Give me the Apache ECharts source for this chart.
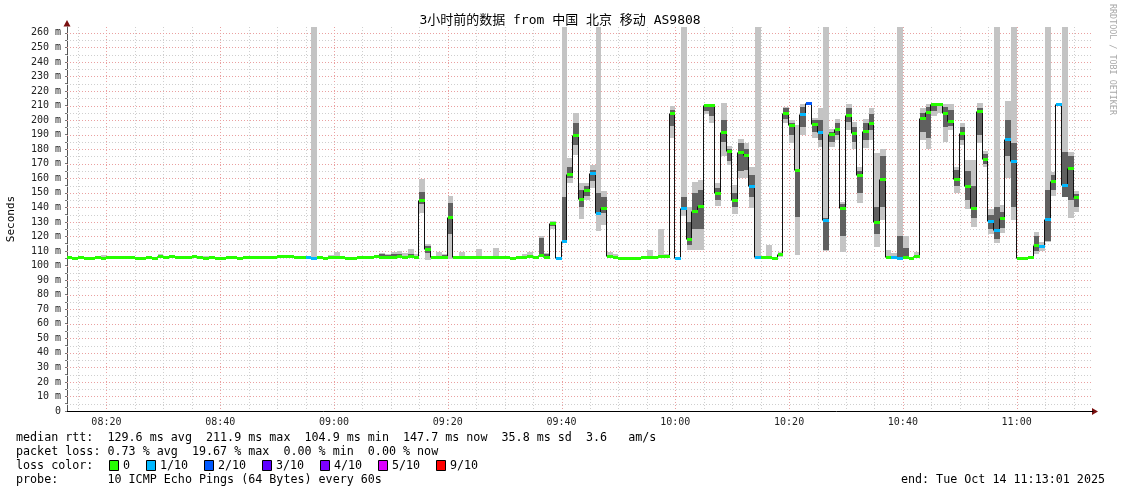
<!DOCTYPE html>
<html>
<head>
<meta charset="utf-8">
<script src="https://cdn.jsdelivr.net/npm/echarts@6.0.0/dist/echarts.min.js"></script>
<style>
html,body{margin:0;padding:0;background:#fff;}
#chart{width:1121px;height:494px;}
</style>
</head>
<body>
<div id="chart"></div>
<script>
// ---------------- DATA ----------------
// one step per minute, first step starts 08:13
const START_MINUTE = 13;            // minutes after 08:00
const medianRtt = [
  105.6,104.9,105.6,104.9,104.9,105.6,104.9,105.6,105.6,105.6,
  105.6,105.6,104.9,104.9,105.6,104.9,106.3,105.6,106.3,105.6,
  105.6,105.6,106.3,105.6,104.9,105.6,104.9,104.9,105.6,105.6,
  104.9,105.6,105.6,105.6,105.6,105.6,106.1,106.3,106.3,106.3,
  105.6,105.6,105.9,104.9,105.6,104.9,105.6,105.6,105.6,104.9,
  104.9,105.6,105.6,105.6,106.3,105.6,105.6,106.1,106.9,106.1,
  106.6,106.1,145.3,111.5,105.6,105.6,105.9,133.4,105.6,105.6,
  105.9,105.6,105.6,105.6,105.6,105.9,105.6,105.6,104.9,105.6,
  106.1,106.9,105.6,107.1,106.2,129.0,105.2,116.7,162.9,190.0,
  146.0,151.6,163.7,136.2,139.4,106.6,105.6,105.1,105.3,105.3,
  105.3,105.6,105.9,105.6,106.4,106.6,205.0,105.5,139.4,118.0,
  137.4,140.8,210.1,210.2,150.0,192.1,178.8,144.8,178.0,176.0,
  154.7,105.8,105.6,105.6,105.1,107.6,205.2,196.7,165.6,204.4,
  211.5,197.0,191.8,131.2,190.5,194.0,139.3,203.7,191.2,162.5,
  192.6,198.3,129.9,159.8,105.8,106.1,105.1,105.8,105.1,106.6,
  201.5,205.7,210.8,211.0,205.2,199.3,159.7,191.2,154.4,139.4,
  206.2,173.3,130.3,124.3,132.4,187.3,171.8,105.5,105.1,105.6,
  114.2,113.2,131.8,158.2,210.8,155.4,166.9,147.2
];
// lost pings (out of 10) per step; all other steps 0
const lossMinutes = [55,56,99,100,105,106,120,121,133,134,142,143,145,146,158,159,175,176,178,179,184,185,187,188];
const lossCount   = [ 1, 1, 1,  1,  1,  1,  1,  1,  1,  1,  1,  2,  1,  1,  1,  1,  1,  1,  1,  1,  1,  1,  1,  1];

// smoke: full spread of the pings (light) ...
const smokeMinute = [19,29,33,37,44,56,57,59,60,61,68,69,70,71,72,73,74,75,76,78,79,80,82,85,88,93,94,96,97,98,
  100,101,102,103,104,105,106,107,108,109,115,117,118,119,121,122,123,124,125,126,127,128,129,130,131,132,133,134,136,138,
  139,140,141,142,144,145,146,147,148,149,150,151,152,153,154,155,156,157,158,159,160,162,163,164,165,166,167,168,169,170,
  171,172,173,174,175,176,177,178,179,183,184,185,186,188,189,190];
const smokeLow = [105,105.6,105.6,105,104.9,104.9,105.6,105.6,105.6,105.6,105.6,105.6,105.6,105.6,105.6,105.6,105.6,136,103.6,105.6,105.6,104.6,105.6,105.6,105.6,105.6,105.6,105.6,104.6,125,
  117,157,176,132,145,153,124,128,105.6,105.6,105.6,105.6,105.6,188,134,111,110.7,110.7,204,198,140.6,175,169,135.5,160,160,139.8,105.8,105.6,105.6,
  198,184,107.3,190,188,181.6,110,181.6,186,109.6,193,180,143,181,186,112.8,131,105.6,105.6,105,105.6,105.6,186,180,203,205,185,193,150,183,
  139,126.8,184,168,122,115.4,122.4,160,131.5,108,110,116,148,147,133,137];
const smokeHigh = [107.2,107.9,106.9,106.9,106.9,264,106.6,107.2,109.2,106.6,108.6,108.1,109.1,110,108.6,111.6,108.1,159.4,114.6,109.6,107.6,148,109.6,111.6,112.3,108.1,109.6,120,108.6,130.7,
  264,174,205,157,157,169,264,151,109.6,107.6,110.6,125,107.6,210,264,140,157.7,159,211,211,156.6,212,182,155.7,187,184,167.6,264,114,109.6,
  209,200,196.7,211,201.6,208,264,193.6,200.5,144,211,199,168,201,208,177.5,180,110.6,108.6,264,120,109.6,208,211,211,211,211,211,168,198,
  172.6,172.6,211.6,179,139,264,141.7,213,264,123,116,264,164,264,178,151];
// ... and the dense core around the median (dark)
const coreMinute = [68,69,70,71,73,75,76,79,80,96,97,98,100,101,102,103,104,105,106,107,119,121,122,123,124,125,126,127,128,129,
  130,131,132,133,139,140,141,142,144,145,146,147,148,149,150,151,152,153,154,155,156,159,160,163,164,165,167,168,169,170,
  171,172,173,174,175,176,177,178,179,183,185,186,188,189,190];
const coreLow = [105.6,105.6,105.6,105.6,105.6,142,108.6,105.6,122,106.6,104.6,127,117,160,183,140,148,158,136,136,196,138,114,125,125,206,203,145,185,172,
  140,165,166,147,201,190,133.6,195,192,186,111,185,190,120,199,185,150,186,193,122,140,105.6,105.6,192,188,206,195,196,155,186,
  145,133,190,170,125,118,126,175,140,110,117,152,147,145,140];
const coreHigh = [107.6,107.1,108.1,107.6,107.6,150.5,113.6,107.1,143,119,107.6,130,147,168,198,152,155,166,150,147,207,147,130,150,152,211,211,153,200,180,
  150,184,180,162,208,198,165.8,209,200,200,133,192,198,142,208,195,165,198,204,140,175,120,112,205,209,211,209,207,166,195,
  165,155,208,177,135,140,137,200,184,120,152,162,178,175,149];

// axes
const xLabelMinutes = [20,40,60,80,100,120,140,160,180];
const xGridMinutes = [15,20,25,30,35,40,45,50,55,60,65,70,75,80,85,90,95,100,105,110,115,120,125,130,135,140,145,150,155,160,165,170,175,180,185,190];
const yLabelValues = [0,10,20,30,40,50,60,70,80,90,100,110,120,130,140,150,160,170,180,190,200,210,220,230,240,250,260];
const yGridValues = [5,10,15,20,25,30,35,40,45,50,55,60,65,70,75,80,85,90,95,100,105,110,115,120,125,130,135,140,145,150,155,160,165,170,175,180,185,190,195,200,205,210,215,220,225,230,235,240,245,250,255,260];

// legend texts
const statsRtt  = 'median rtt:  129.6 ms avg  211.9 ms max  104.9 ms min  147.7 ms now  35.8 ms sd  3.6   am/s';
const statsLoss = 'packet loss: 0.73 % avg  19.67 % max  0.00 % min  0.00 % now';
const lossLegendLabels = ['0','1/10','2/10','3/10','4/10','5/10','9/10'];
const lossLegendColors = ['#26ff00','#00b8ff','#0059ff','#5e00ff','#7e00ff','#dd00ff','#ff0000'];
const probeText = 'probe:       10 ICMP Echo Pings (64 Bytes) every 60s';
const endText = 'end: Tue Oct 14 11:13:01 2025';
const titleText = '3小时前的数据 from 中国 北京 移动 AS9808';

// ---------------- CHART ----------------
const X_MIN = 13.07, X_MAX = 193.42, Y_MAX = 264;
const MONO = '"DejaVu Sans Mono", "Noto Sans CJK SC", monospace';
const lossColorOf = n => n <= 0 ? lossLegendColors[0] : n >= 6 ? lossLegendColors[6] : lossLegendColors[n];
const hhmm = m => String(8 + Math.floor(m / 60)).padStart(2, '0') + ':' + String(m % 60).padStart(2, '0');

const lossByMinute = {};
lossMinutes.forEach((m, i) => { lossByMinute[m] = lossCount[i]; });

function stepX(api, m) {
  return [Math.round(api.coord([Math.max(m, X_MIN), 0])[0]), Math.round(api.coord([Math.min(m + 1, X_MAX), 0])[0])];
}
function bandRender(color) {
  return function (params, api) {
    const m = api.value(0);
    const [xa, xb] = stepX(api, m);
    const yTop = Math.round(api.coord([m, api.value(2)])[1]);
    const yBot = Math.round(api.coord([m, api.value(1)])[1]);
    return { type: 'rect', shape: { x: xa, y: yTop, width: xb - xa, height: Math.max(1, yBot - yTop) }, style: { fill: color } };
  };
}

const medianData = medianRtt.map((v, i) => [START_MINUTE + i, v, i + 1 < medianRtt.length ? medianRtt[i + 1] : v]);
const markerData = medianRtt.map((v, i) => [START_MINUTE + i, v, lossByMinute[START_MINUTE + i] || 0]);

const chart = echarts.init(document.getElementById('chart'), null, { renderer: 'canvas' });

const graphics = [];
graphics.push({ type: 'text', x: 560, y: 21, style: { text: titleText, font: '13px ' + MONO, fill: '#000', align: 'center', verticalAlign: 'middle', textAlign: 'center', textVerticalAlign: 'middle' } });
graphics.push({ type: 'text', x: 11, y: 219, rotation: Math.PI / 2, style: { text: 'Seconds', font: '11px ' + MONO, fill: '#000', align: 'center', verticalAlign: 'middle', textAlign: 'center', textVerticalAlign: 'middle' } });
graphics.push({ type: 'text', x: 1112, y: 4, rotation: -Math.PI / 2, style: { text: 'RRDTOOL / TOBI OETIKER', font: '8.4px ' + MONO, fill: '#a8a8a8', align: 'left', verticalAlign: 'middle', textAlign: 'left', textVerticalAlign: 'middle' } });
// axis arrows
graphics.push({ type: 'polygon', shape: { points: [[67, 20], [63.5, 26.5], [70.5, 26.5]] }, style: { fill: '#7a1010' } });
graphics.push({ type: 'polygon', shape: { points: [[1098, 411.5], [1092, 408], [1092, 415]] }, style: { fill: '#7a1010' } });
// legend rows
const legendFont = '11.7px ' + MONO;
const legendText = (t, x, y, align) => ({ type: 'text', x, y, style: { text: t, font: legendFont, fill: '#000', align: align || 'left', verticalAlign: 'middle', textAlign: align || 'left', textVerticalAlign: 'middle' } });
graphics.push(legendText(statsRtt, 16, 438));
graphics.push(legendText(statsLoss, 16, 452));
graphics.push(legendText('loss color:', 16, 466));
graphics.push(legendText(probeText, 16, 480));
graphics.push(legendText(endText, 1105, 480, 'right'));
const boxLeft = [109, 146, 204, 262, 320, 378, 436];
lossLegendLabels.forEach((lab, i) => {
  graphics.push({ type: 'rect', shape: { x: boxLeft[i] + 0.5, y: 460.5, width: 9, height: 10 }, style: { fill: lossLegendColors[i], stroke: '#000', lineWidth: 1 } });
  graphics.push(legendText(lab, boxLeft[i] + 14, 466));
});

const option = {
  animation: false,
  backgroundColor: '#fff',
  grid: { left: 67, right: 28, top: 27, bottom: 83, containLabel: false, outerBoundsMode: 'none' },
  xAxis: {
    type: 'value', min: X_MIN, max: X_MAX,
    axisLine: { show: true, lineStyle: { color: '#000', width: 1 } },
    axisTick: { show: false },
    splitLine: { show: false },
    axisLabel: { customValues: xLabelMinutes, formatter: v => hhmm(Math.round(v)), fontFamily: MONO, fontSize: 10, color: '#222', margin: 6 }
  },
  yAxis: {
    type: 'value', min: 0, max: Y_MAX,
    axisLine: { show: true, lineStyle: { color: '#555', width: 1 } },
    axisTick: { show: true, customValues: [0].concat(yGridValues), length: 2, lineStyle: { color: '#777' } },
    splitLine: { show: false },
    axisLabel: { customValues: yLabelValues, formatter: v => v === 0 ? '0' : v + ' m', fontFamily: MONO, fontSize: 10, color: '#222', margin: 6 }
  },
  graphic: graphics,
  series: [
    {
      type: 'custom', name: 'vgrid', silent: true, z: 1,
      data: xGridMinutes.map(m => [m, 0, m % 20 === 0 ? 1 : 0]),
      encode: { x: 0, y: 1 },
      renderItem(params, api) {
        const x = Math.round(api.coord([api.value(0), 0])[0]) + 0.5;
        const cs = params.coordSys;
        return { type: 'line', shape: { x1: x, y1: cs.y, x2: x, y2: cs.y + cs.height }, style: { stroke: api.value(2) ? '#eaa0a0' : '#cfcfcf', lineWidth: 1, lineDash: [1, 2] } };
      }
    },
    {
      type: 'custom', name: 'hgrid', silent: true, z: 1,
      data: yGridValues.map(v => [X_MIN, v, v % 10 === 0 ? 1 : 0]),
      encode: { x: 0, y: 1 },
      renderItem(params, api) {
        const y = Math.round(api.coord([X_MIN, api.value(1)])[1]) + 0.5;
        const cs = params.coordSys;
        return { type: 'line', shape: { x1: cs.x, y1: y, x2: cs.x + cs.width, y2: y }, style: { stroke: api.value(2) ? '#eaa0a0' : '#cfcfcf', lineWidth: 1, lineDash: [1, 2] } };
      }
    },
    {
      type: 'custom', name: 'smoke', silent: true, z: 2,
      data: smokeMinute.map((m, i) => [m, smokeLow[i], smokeHigh[i]]),
      encode: { x: 0, y: [1, 2] },
      renderItem: bandRender('#c4c4c4')
    },
    {
      type: 'custom', name: 'core', silent: true, z: 3,
      data: coreMinute.map((m, i) => [m, coreLow[i], coreHigh[i]]),
      encode: { x: 0, y: [1, 2] },
      renderItem: bandRender('#606060')
    },
    {
      type: 'custom', name: 'median line', silent: true, z: 4,
      data: medianData,
      encode: { x: 0, y: [1, 2] },
      renderItem(params, api) {
        const m = api.value(0);
        const [xa, xb] = stepX(api, m);
        const y = Math.round(api.coord([m, api.value(1)])[1]) + 0.5;
        const yn = Math.round(api.coord([m, api.value(2)])[1]) + 0.5;
        return { type: 'group', children: [
          { type: 'line', shape: { x1: xa, y1: y, x2: xb, y2: y }, style: { stroke: '#111', lineWidth: 1 } },
          { type: 'line', shape: { x1: xb - 0.5, y1: y, x2: xb - 0.5, y2: yn }, style: { stroke: '#111', lineWidth: 1 } }
        ] };
      }
    },
    {
      type: 'custom', name: 'median loss', silent: true, z: 5,
      data: markerData,
      encode: { x: 0, y: 1 },
      renderItem(params, api) {
        const m = api.value(0);
        const [xa, xb] = stepX(api, m);
        const y = Math.round(api.coord([m, api.value(1)])[1]);
        return { type: 'rect', shape: { x: xa, y: y - 1, width: xb - xa, height: 3 }, style: { fill: lossColorOf(api.value(2)) } };
      }
    }
  ]
};
chart.setOption(option);
</script>
</body>
</html>
